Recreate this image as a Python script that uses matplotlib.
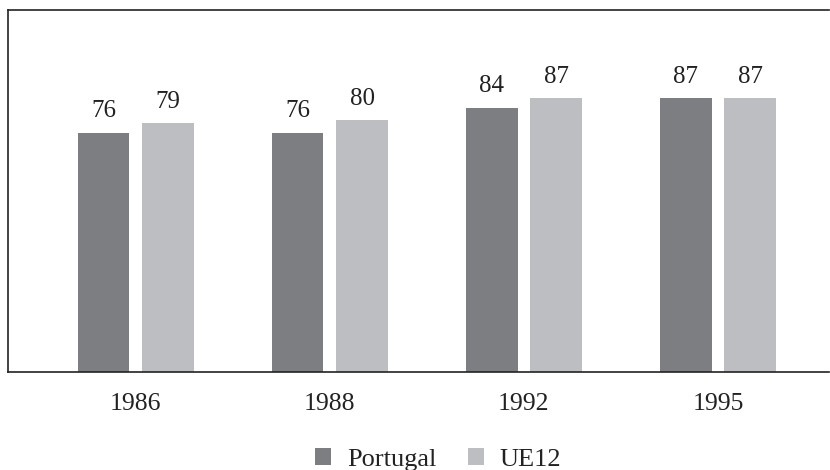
from matplotlib import pyplot as plt
import numpy as np

anos = ["1986", "1988", "1992", "1995"]
portugal = [76, 76, 84, 87]
ue12 = [79, 80, 87, 87]

cor_pt = "#7d7e82"
cor_ue = "#bdbec2"

plt.rcParams['font.family'] = ['Liberation Serif', 'DejaVu Serif']

fig = plt.figure(figsize=(8.3, 4.7), dpi=100)
ax = fig.add_axes([0.0102, 0.2085, 0.9888, 0.7702])

x = np.arange(len(anos))
largura = 0.266
desloc = 0.166

b1 = ax.bar(x - desloc, portugal, largura, color=cor_pt, label="Portugal")
b2 = ax.bar(x + desloc, ue12, largura, color=cor_ue, label="UE12")

for barras in (b1, b2):
    for b in barras:
        ax.annotate(f"{b.get_height():.0f}",
                    (b.get_x() + b.get_width() / 2, b.get_height()),
                    xytext=(0, 11), textcoords="offset points",
                    ha="center", va="baseline", fontsize=18, color="#222222")

ax.set_xlim(-0.656, 3.573)
ax.set_ylim(0, 115)
ax.set_xticks(x)
ax.set_xticklabels(anos, fontsize=18.5, color="#222222")
ax.set_yticks([])
ax.tick_params(axis="x", length=0, pad=15)

ax.spines["right"].set_visible(False)
for s in ("left", "top", "bottom"):
    ax.spines[s].set_color("#222222")
    ax.spines[s].set_linewidth(1.2)

fig.legend(handles=[b1, b2], loc="center", bbox_to_anchor=(0.528, 0.022),
           ncol=2, frameon=False, fontsize=19, handlelength=0.6,
           handleheight=0.6, handletextpad=0.6, columnspacing=1.2,
           labelcolor="#222222")

fig.savefig("out.png", dpi=100)
